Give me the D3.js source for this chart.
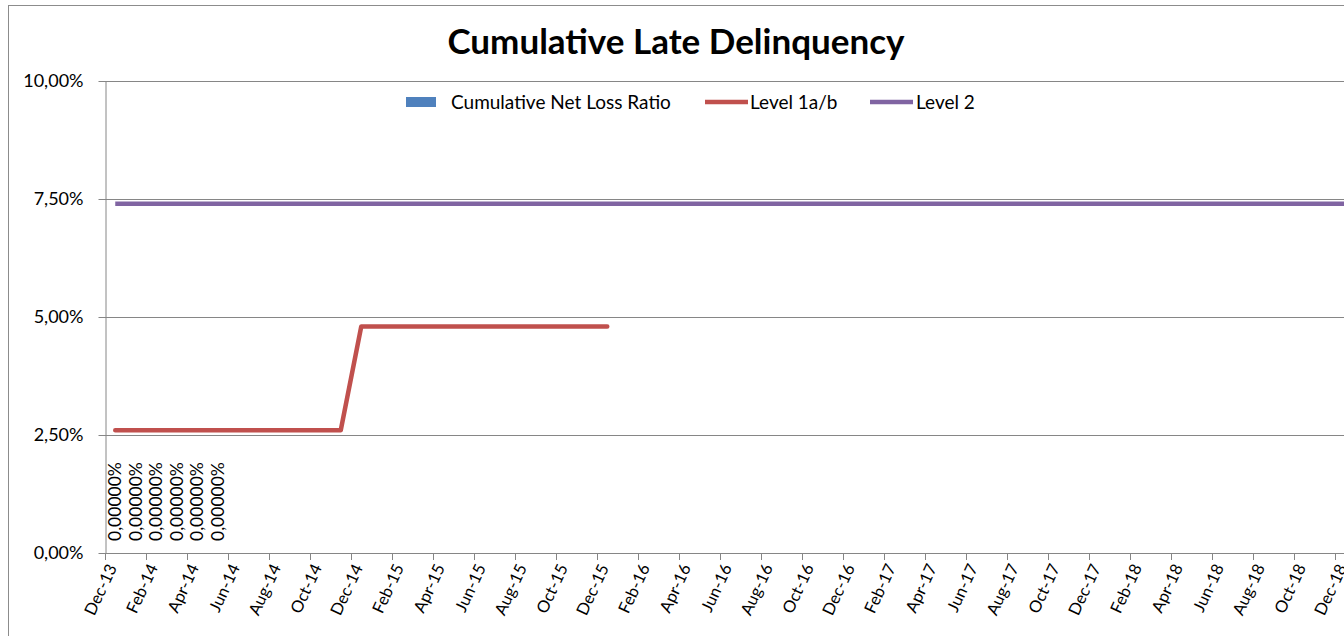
<!DOCTYPE html>
<html>
<head>
<meta charset="utf-8">
<script src="https://cdn.jsdelivr.net/npm/d3@7"></script>
<style>
  body { margin: 0; background: #fff; overflow: hidden; }
  svg { display: block; font-family: Lato, "Open Sans", sans-serif; }
</style>
</head>
<body>
<svg width="1344" height="636"></svg>
<script>
// months shown on the category axis (Dec-13 onward, chart runs off the right edge)
var months = d3.timeMonth.range(new Date(2013, 11, 1), new Date(2019, 2, 1));
var fmt = d3.timeFormat("%b-%y");
var categories = months.map(function(d) { return fmt(d); });

// series values (in %)
var netLoss = [0, 0, 0, 0, 0, 0];
var level1 = [2.6, 2.6, 2.6, 2.6, 2.6, 2.6, 2.6, 2.6, 2.6, 2.6, 2.6, 2.6,
              4.8, 4.8, 4.8, 4.8, 4.8, 4.8, 4.8, 4.8, 4.8, 4.8, 4.8, 4.8, 4.8];
var level2 = [7.4, 7.4, 7.4, 7.4, 7.4, 7.4, 7.4, 7.4, 7.4, 7.4, 7.4, 7.4,
              7.4, 7.4, 7.4, 7.4, 7.4, 7.4, 7.4, 7.4, 7.4, 7.4, 7.4, 7.4,
              7.4, 7.4, 7.4, 7.4, 7.4, 7.4, 7.4, 7.4, 7.4, 7.4, 7.4, 7.4,
              7.4, 7.4, 7.4, 7.4, 7.4, 7.4, 7.4, 7.4, 7.4, 7.4, 7.4, 7.4,
              7.4, 7.4, 7.4, 7.4, 7.4, 7.4, 7.4, 7.4, 7.4, 7.4, 7.4, 7.4,
              7.4, 7.4, 7.4];
var yTicks = [0, 2.5, 5, 7.5, 10];

var svg = d3.select("svg");
var plotLeft = 105, plotTop = 81, plotBottom = 553;
var step = 20.5;
var plotRight = plotLeft + categories.length * step;

var x = d3.scaleBand().domain(categories).range([plotLeft, plotRight]);
var y = d3.scaleLinear().domain([0, 10]).range([plotBottom, plotTop]);
var pct = function(v) { return d3.format(".2f")(v).replace(".", ",") + "%"; };

// outer chart border
svg.append("rect")
    .attr("x", 8.5).attr("y", 5.5)
    .attr("width", 1400).attr("height", 700)
    .attr("fill", "none").attr("stroke", "#8c8c8c").attr("stroke-width", 1);

// title
svg.append("text")
    .attr("x", 676).attr("y", 54)
    .attr("text-anchor", "middle")
    .attr("font-size", "35px")
    .attr("font-weight", "bold")
    .text("Cumulative Late Delinquency");

// gridlines
svg.append("g").selectAll("line")
    .data(yTicks.filter(function(d) { return d > 0; }))
    .enter().append("line")
    .attr("x1", plotLeft).attr("x2", plotRight)
    .attr("y1", function(d) { return Math.round(y(d)) + 0.5; })
    .attr("y2", function(d) { return Math.round(y(d)) + 0.5; })
    .attr("stroke", "#868686");

// y axis
var yaxis = svg.append("g")
    .attr("transform", "translate(" + (plotLeft + 0.5) + ",0)")
    .call(d3.axisLeft(y).tickValues(yTicks).tickFormat(pct).tickSize(7).tickPadding(15).tickSizeOuter(0));
yaxis.select(".domain").attr("stroke", "#868686");
yaxis.selectAll("line").attr("stroke", "#868686");
yaxis.selectAll("text").attr("font-size", "18px").attr("fill", "#000")
    .attr("font-family", "Lato, sans-serif");

// x axis (tick at every second month boundary)
var xg = svg.append("g");
xg.append("line")
    .attr("x1", plotLeft).attr("x2", plotRight)
    .attr("y1", plotBottom + 0.5).attr("y2", plotBottom + 0.5)
    .attr("stroke", "#868686");
var tickCats = categories.filter(function(d, i) { return i % 2 === 0; });
xg.selectAll(".xt")
    .data(tickCats)
    .enter().append("line")
    .attr("class", "xt")
    .attr("x1", function(d) { return Math.round(x(d)) + 0.5; })
    .attr("x2", function(d) { return Math.round(x(d)) + 0.5; })
    .attr("y1", plotBottom).attr("y2", plotBottom + 7)
    .attr("stroke", "#868686");
xg.selectAll(".xl")
    .data(tickCats)
    .enter().append("text")
    .attr("class", "xl")
    .attr("transform", function(d) {
        return "translate(" + (x(d) + 7) + "," + (plotBottom + 12) + ") rotate(-65)";
    })
    .attr("text-anchor", "end")
    .attr("dy", "0.35em")
    .attr("font-size", "16.5px")
    .text(function(d) { return d; });

// Cumulative Net Loss Ratio bars (all zero) with data labels
var bars = svg.append("g");
bars.selectAll("rect")
    .data(netLoss)
    .enter().append("rect")
    .attr("x", function(d, i) { return x(categories[i]) + 4; })
    .attr("width", x.bandwidth() - 8)
    .attr("y", function(d) { return y(d); })
    .attr("height", function(d) { return plotBottom - y(d); })
    .attr("fill", "#4F81BD");
bars.selectAll("text")
    .data(netLoss)
    .enter().append("text")
    .attr("transform", function(d, i) {
        return "translate(" + (x(categories[i]) + x.bandwidth() / 2) + "," + (y(d) - 12) + ") rotate(-90)";
    })
    .attr("dy", "0.35em")
    .attr("font-size", "17.5px")
    .text(function(d) { return d3.format(".5f")(d).replace(".", ",") + "%"; });

var line = d3.line()
    .x(function(d, i) { return x(categories[i]) + x.bandwidth() / 2; })
    .y(function(d) { return y(d); });

svg.append("path")
    .datum(level2)
    .attr("d", line)
    .attr("fill", "none").attr("stroke", "#8064A2").attr("stroke-width", 4.5);

svg.append("path")
    .datum(level1)
    .attr("d", line)
    .attr("fill", "none").attr("stroke", "#C0504D").attr("stroke-width", 4.5)
    .attr("stroke-linejoin", "round").attr("stroke-linecap", "round");

// legend
var legend = svg.append("g").attr("font-size", "19px");
legend.append("rect")
    .attr("x", 406).attr("y", 97).attr("width", 30).attr("height", 10)
    .attr("fill", "#4F81BD");
legend.append("text").attr("x", 451).attr("y", 109).text("Cumulative Net Loss Ratio");
legend.append("line")
    .attr("x1", 705).attr("x2", 748).attr("y1", 102).attr("y2", 102)
    .attr("stroke", "#C0504D").attr("stroke-width", 4.5);
legend.append("text").attr("x", 750).attr("y", 109).text("Level 1a/b");
legend.append("line")
    .attr("x1", 870).attr("x2", 913).attr("y1", 102).attr("y2", 102)
    .attr("stroke", "#8064A2").attr("stroke-width", 4.5);
legend.append("text").attr("x", 916).attr("y", 109).text("Level 2");
</script>
</body>
</html>
